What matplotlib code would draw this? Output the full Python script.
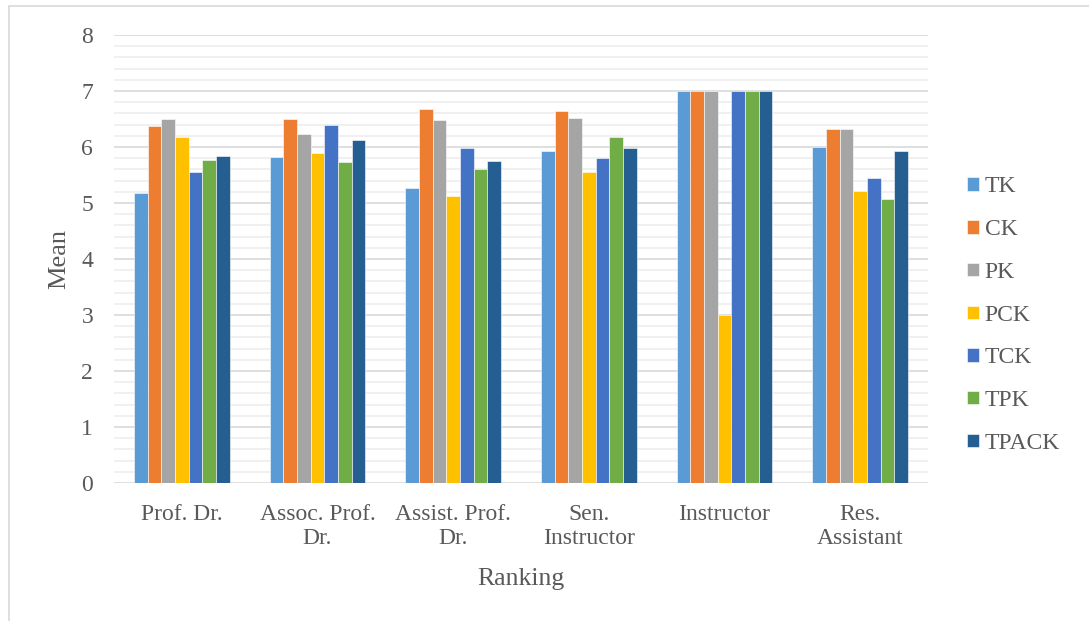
import matplotlib
matplotlib.use('Agg')
import matplotlib.pyplot as plt
import numpy as np
from matplotlib.patches import Rectangle
from matplotlib.ticker import MultipleLocator

plt.rcParams['font.family'] = ['Liberation Serif', 'DejaVu Serif']

rankings = ['Prof. Dr.', 'Assoc. Prof.\nDr.', 'Assist. Prof.\nDr.',
            'Sen.\nInstructor', 'Instructor', 'Res.\nAssistant']
series = ['TK', 'CK', 'PK', 'PCK', 'TCK', 'TPK', 'TPACK']

tk = [5.18, 5.83, 5.27, 5.93, 7.00, 6.00]
ck = [6.38, 6.50, 6.67, 6.64, 7.00, 6.33]
pk = [6.50, 6.23, 6.48, 6.51, 7.00, 6.33]
pck = [6.17, 5.89, 5.13, 5.55, 3.00, 5.22]
tck = [5.56, 6.39, 5.98, 5.81, 7.00, 5.44]
tpk = [5.77, 5.73, 5.60, 6.18, 7.00, 5.07]
tpack = [5.84, 6.13, 5.75, 5.99, 7.00, 5.92]

colors = ['#5B9BD5', '#ED7D31', '#A5A5A5', '#FFC000', '#4472C4', '#70AD47', '#255E91']
text_color = '#595959'

fig = plt.figure(figsize=(10.89, 6.21), dpi=100)
ax = fig.add_axes([114 / 1089, 1 - 483 / 621, (928 - 114) / 1089, (483 - 35) / 621])

x = np.arange(len(rankings))
width = 0.101
for i, (name, vals) in enumerate(zip(series, [tk, ck, pk, pck, tck, tpk, tpack])):
    ax.bar(x + (i - 3) * width, vals, width, color=colors[i], label=name,
           edgecolor='white', linewidth=0.4, zorder=3)

ax.set_xlim(-0.5, len(rankings) - 0.5)
ax.set_ylim(0, 8)
ax.yaxis.set_major_locator(MultipleLocator(1))
ax.yaxis.set_minor_locator(MultipleLocator(0.2))
ax.grid(axis='y', which='major', color='#D9D9D9', linewidth=1.2, zorder=0)
ax.grid(axis='y', which='minor', color='#EDEDED', linewidth=1.2, zorder=0)
for s in ax.spines.values():
    s.set_visible(False)
ax.tick_params(which='both', length=0)
ax.tick_params(axis='y', pad=15, labelsize=17, labelcolor=text_color)
ax.tick_params(axis='x', pad=15, labelsize=17, labelcolor=text_color)
ax.set_xticks(x)
ax.set_xticklabels(rankings, linespacing=1.2)

ax.set_xlabel('Ranking', fontsize=18.5, color=text_color, labelpad=14)
ax.set_ylabel('Mean', fontsize=19, color=text_color, labelpad=8)

leg = fig.legend(loc='center left', bbox_to_anchor=(0.877, 0.4925), frameon=False,
                 fontsize=17, labelcolor=text_color, handlelength=0.5, handleheight=0.5,
                 handletextpad=0.25, labelspacing=0.92, borderpad=0)

# outer chart border
fig.patches.append(Rectangle((9, -10), 1200, 621 - 6 + 10, transform=None,
                             fill=False, edgecolor='#D9D9D9', linewidth=1.2))

fig.savefig('out.png', dpi=100)
plt.close(fig)
